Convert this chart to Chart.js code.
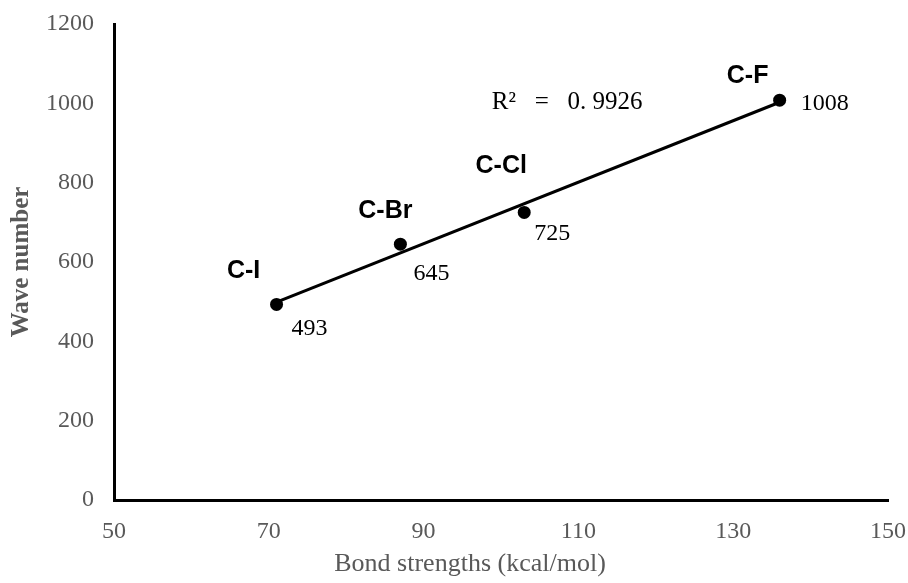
<!DOCTYPE html>
<html>
<head>
<meta charset="utf-8">
<script src="https://cdn.jsdelivr.net/npm/chart.js@4.4.1/dist/chart.umd.min.js"></script>
<style>
  html, body { margin: 0; padding: 0; background: #fff; }
</style>
</head>
<body>
<canvas id="myChart" width="908" height="583"></canvas>
<script>
// DADES (llegides del gràfic)
const enllacos = ["C-I", "C-Br", "C-Cl", "C-F"];
const energies = [71, 87, 103, 136];       // Bond strengths (kcal/mol)
const nombresOna = [493, 645, 725, 1008];  // Wave number
const ticksX = [50, 70, 90, 110, 130, 150];
const ticksY = [0, 200, 400, 600, 800, 1000, 1200];
const titolX = "Bond strengths (kcal/mol)";
const titolY = "Wave number";

// on van les etiquetes respecte de cada punt (px)
const despNom = [[-33, -26], [-15, -26], [-23, -39], [-32, -17]];
const despValor = [[15, 31], [13, 36], [10, 28], [21, 10]];

const GRIS = "#595959";
const SERIF = '"Liberation Serif", "DejaVu Serif", serif';

// recta de regressio (linia de tendencia)
function regressio(xs, ys) {
  const n = xs.length;
  const mx = xs.reduce((a, b) => a + b, 0) / n;
  const my = ys.reduce((a, b) => a + b, 0) / n;
  let sxy = 0, sxx = 0, syy = 0;
  for (let i = 0; i < n; i++) {
    sxy += (xs[i] - mx) * (ys[i] - my);
    sxx += (xs[i] - mx) * (xs[i] - mx);
    syy += (ys[i] - my) * (ys[i] - my);
  }
  const m = sxy / sxx;
  return { m: m, b: my - m * mx, r2: (sxy * sxy) / (sxx * syy) };
}

const reg = regressio(energies, nombresOna);
const xMin = Math.min(...energies);
const xMax = Math.max(...energies);
const tendencia = [
  { x: xMin, y: reg.m * xMin + reg.b },
  { x: xMax, y: reg.m * xMax + reg.b },
];
const textR2 = "R²   =   " + reg.r2.toFixed(4).replace(".", ". ");

const etiquetes = {
  id: "etiquetes",
  afterDatasetsDraw(chart) {
    const ctx = chart.ctx;
    const sx = chart.scales.x;
    const sy = chart.scales.y;
    ctx.save();
    ctx.textBaseline = "alphabetic";
    ctx.fillStyle = "#000";
    enllacos.forEach((nom, i) => {
      const px = sx.getPixelForValue(energies[i]);
      const py = sy.getPixelForValue(nombresOna[i]);
      ctx.font = 'bold 25px "Liberation Sans", Arial, sans-serif';
      ctx.textAlign = "center";
      ctx.fillText(nom, px + despNom[i][0], py + despNom[i][1]);
      ctx.font = "24px " + SERIF;
      ctx.textAlign = "left";
      ctx.fillText(String(nombresOna[i]), px + despValor[i][0], py + despValor[i][1]);
    });
    ctx.font = "25px " + SERIF;
    ctx.textAlign = "left";
    ctx.fillText(textR2, sx.getPixelForValue(98.8), sy.getPixelForValue(985));

    // titol de l'eix X (una mica desplaçat a l'esquerra com a l'original)
    const area = chart.chartArea;
    ctx.font = "26px " + SERIF;
    ctx.fillStyle = GRIS;
    ctx.textAlign = "center";
    ctx.textBaseline = "middle";
    ctx.fillText(titolX, area.left + area.width * 0.46, 564);
    ctx.restore();
  },
};

// treu el farciment automatic de les escales perque l'area quedi on toca
function sensePadding(s) {
  s.paddingTop = 0;
  s.paddingBottom = 0;
  s.paddingLeft = 0;
  s.paddingRight = 0;
}

const config = {
  data: {
    datasets: [
      {
        type: "scatter",
        label: "Wave number",
        data: energies.map((e, i) => ({ x: e, y: nombresOna[i] })),
        backgroundColor: "#000",
        borderColor: "#000",
        pointRadius: 6.5,
        borderWidth: 0,
      },
      {
        type: "line",
        label: "Tendencia",
        data: tendencia,
        borderColor: "#000",
        borderWidth: 3,
        pointRadius: 0,
        fill: false,
      },
    ],
  },
  options: {
    responsive: false,
    animation: false,
    layout: { padding: { top: 24, right: 20, left: 0, bottom: 5 } },
    plugins: {
      legend: { display: false },
      tooltip: { enabled: false },
    },
    scales: {
      x: {
        type: "linear",
        min: ticksX[0],
        max: ticksX[ticksX.length - 1],
        afterBuildTicks: (s) => { s.ticks = ticksX.map((v) => ({ value: v })); },
        afterFit: (s) => { s.height = 78; sensePadding(s); },
        grid: { display: false, drawTicks: false },
        border: { display: true, color: "#000", width: 3 },
        ticks: {
          color: GRIS,
          font: { family: SERIF, size: 24 },
          padding: 17,
          maxRotation: 0,
          autoSkip: false,
          callback: (v) => String(v),
        },
        title: { display: false },
      },
      y: {
        type: "linear",
        min: ticksY[0],
        max: ticksY[ticksY.length - 1],
        afterBuildTicks: (s) => { s.ticks = ticksY.map((v) => ({ value: v })); },
        afterFit: (s) => { s.width = 114; sensePadding(s); },
        grid: { display: false, drawTicks: false },
        border: { display: true, color: "#000", width: 3 },
        ticks: {
          color: GRIS,
          font: { family: SERIF, size: 24 },
          padding: 20,
          callback: (v) => String(v),
        },
        title: {
          display: true,
          text: titolY,
          color: GRIS,
          font: { family: SERIF, size: 25, weight: "bold" },
          padding: { top: 7, bottom: 0 },
        },
      },
    },
  },
  plugins: [etiquetes],
};

const myChart = new Chart(document.getElementById("myChart"), config);
</script>
</body>
</html>
